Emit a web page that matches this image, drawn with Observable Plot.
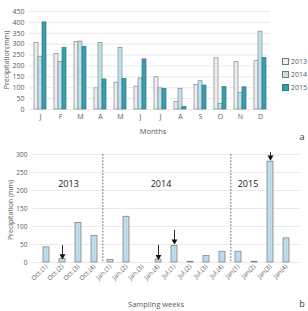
<!DOCTYPE html>
<html><head><meta charset="utf-8">
<script src="https://cdn.jsdelivr.net/npm/d3@7"></script>
<script src="https://cdn.jsdelivr.net/npm/@observablehq/plot@0.6"></script>
<style>
body{margin:0;background:#fff;font-family:"Open Sans","Liberation Sans",sans-serif;}
#wrap{position:relative;width:308px;height:311px;overflow:hidden;}
.t{position:absolute;color:#595959;white-space:nowrap;}
.leg{position:absolute;left:282px;font-size:7px;color:#595959;display:flex;align-items:center;}
.leg span.sw{display:inline-block;width:5px;height:5px;margin-right:2px;border:0.8px solid #777;}
.layer{position:absolute;left:0;}
</style></head>
<body><div id="wrap">
<div id="a0" class="layer" style="top:0"></div>
<div id="a" class="layer" style="top:0"></div>
<div id="b" class="layer" style="top:145px"></div>
<div class="t" style="top:60px;font-size:7px;transform:translate(-50%,-50%) rotate(-90deg);left:6px;">Precipitation(mm)</div>
<div class="t" style="left:153px;top:131px;font-size:7.5px;transform:translate(-50%,-50%);">Months</div>
<div class="t" style="left:302px;top:136px;font-size:9px;color:#333;transform:translate(-50%,-50%);">a</div>
<div class="leg" style="top:57px"><span class="sw" style="background:#eeedf2"></span>2013</div>
<div class="leg" style="top:70px"><span class="sw" style="background:#c2e2e7"></span>2014</div>
<div class="leg" style="top:83px"><span class="sw" style="background:#3d9cac;border-color:#2c7b89"></span>2015</div>
<div class="t" style="left:10px;top:210px;font-size:7px;transform:translate(-50%,-50%) rotate(-90deg);">Precipitation (mm)</div>
<div class="t" style="left:156px;top:304px;font-size:7.5px;transform:translate(-50%,-50%);">Sampling weeks</div>
<div class="t" style="left:302px;top:303px;font-size:9px;color:#333;transform:translate(-50%,-50%);">b</div>
</div>
<script>
// Panel a: monthly precipitation (mm)
const monthLabels = ["J","F","M","A","M","J","J","A","S","O","N","D"];
const years = ["2013","2014","2015"];
const p2013 = [305,255,310,97,123,105,148,35,112,235,218,222];
const p2014 = [242,218,312,305,282,143,97,95,130,25,77,357];
const p2015 = [400,283,288,138,140,230,95,12,110,103,102,237];
const yTicksA = [0,50,100,150,200,250,300,350,400,450];
const yearColors = ["#eeedf2","#c2e2e7","#3d9cac"];
const yearStrokes = ["#85858c","#6f9097","#2c7b89"];

// Panel b: weekly precipitation (mm)
const weekLabels = ["Oct.(1)","Oct.(2)","Oct.(3)","Oct.(4)","Jan.(1)","Jan.(2)","Jan.(3)","Jan.(4)","Jul.(1)","Jul.(2)","Jul.(3)","Jul.(4)","Jan(1)","Jan(2)","Jan(3)","Jan(4)"];
const weekValues = [42,10,110,74,7,127,0,8,46,2,18,30,30,2,280,67];
const yTicksB = [0,50,100,150,200,250,300];
const dividerAfter = [3,11];
const arrowWeeks = [1,7,8,14];
const arrowStart = [47,48,89,305];
const arrowTip = [14,12,55,288];
const yearNames = ["2013","2014","2015"];
const yearAt = [1,7,12];
const yearY = [219,219,219];
const yearDx = [6,2.5,9.5];

const rowsA = [];
[p2013,p2014,p2015].forEach((arr,k)=>arr.forEach((v,i)=>rowsA.push({m:i,year:years[k],v})));

const fontFam = '"Open Sans","Liberation Sans",sans-serif';
const dimsA = {width:308, height:145, marginLeft:29, marginRight:38, marginTop:11, marginBottom:36};

// background layer: grid + y axis (continuous across months)
const chartA0 = Plot.plot({
  ...dimsA,
  style:{fontFamily:fontFam,fontSize:"7px",color:"#595959",background:"transparent"},
  x:{domain:[0,1], axis:null},
  y:{domain:[0,450], ticks:yTicksA, tickSize:0, tickPadding:5, label:null},
  marks:[ Plot.ruleY(yTicksA,{stroke:"#e3e3e3", strokeWidth:0.8}) ]
});
document.getElementById("a0").appendChild(chartA0);

const chartA = Plot.plot({
  ...dimsA,
  style:{fontFamily:fontFam,fontSize:"7px",color:"#595959",background:"transparent"},
  fx:{domain:d3.range(12), tickFormat:i=>monthLabels[i], paddingInner:0.3, paddingOuter:0.15, label:null, tickSize:0, tickPadding:5},
  x:{domain:years, padding:0.04, axis:null},
  y:{domain:[0,450], axis:null},
  color:{domain:years, range:yearColors},
  marks:[
    Plot.barY(rowsA,{fx:"m", x:"year", y:"v", fill:"year", stroke:d=>yearStrokes[years.indexOf(d.year)], strokeWidth:0.7})
  ]
});
document.getElementById("a").appendChild(chartA);

const rowsB = weekValues.map((v,i)=>({i,v}));
const arrows = arrowWeeks.map((w,k)=>({i:w,y1:arrowStart[k],y2:arrowTip[k]}));
const yearText = yearNames.map((t,k)=>({t,i:yearAt[k],y:yearY[k]}));

const chartB = Plot.plot({
  width:308, height:166,
  marginLeft:33, marginRight:8, marginTop:9, marginBottom:49,
  style:{fontFamily:fontFam,fontSize:"6.5px",color:"#595959",background:"transparent"},
  x:{domain:d3.range(16), tickFormat:i=>weekLabels[i], paddingInner:0.62, paddingOuter:0.35, label:null, tickSize:0, tickPadding:3, tickRotate:-45},
  y:{domain:[0,300], ticks:yTicksB, tickSize:0, tickPadding:6, label:null},
  marks:[
    Plot.ruleY(yTicksB,{stroke:"#e3e3e3", strokeWidth:0.8}),
    Plot.barY(rowsB,{x:"i", y:"v", fill:"#bcdced", stroke:"#858585", strokeWidth:0.8}),
    Plot.ruleX(dividerAfter,{x:d=>d, dx:8.3, stroke:"#555", strokeDasharray:"1.6,1.6", strokeWidth:0.9}),
    Plot.ruleX(arrows,{x:"i", y1:"y1", y2:"y2", stroke:"#111", strokeWidth:0.9}),
    Plot.dot(arrows,{x:"i", y:"y2", symbol:"triangle", rotate:180, r:2.2, fill:"#111", dy:-1.5}),
    ...yearText.map((d,k)=>Plot.text([d],{x:"i", y:"y", text:"t", dx:yearDx[k], fontSize:9, fill:"#222"}))
  ]
});
document.getElementById("b").appendChild(chartB);
</script>
</body></html>
